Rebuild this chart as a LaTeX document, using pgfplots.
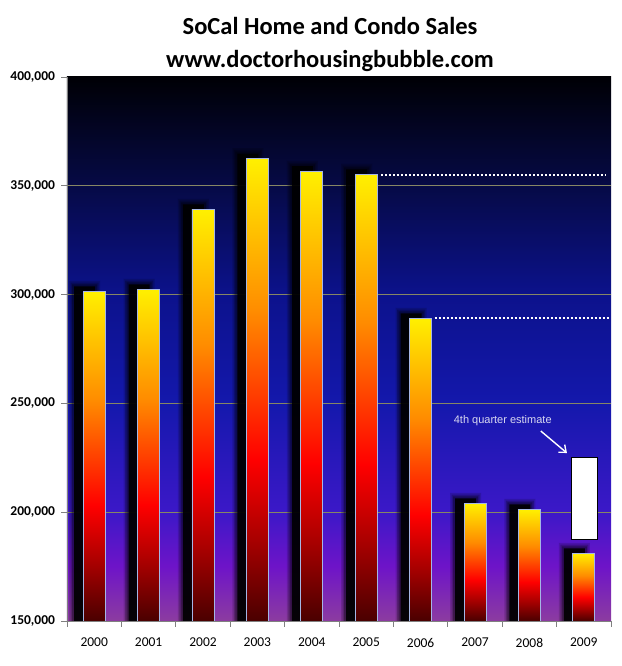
\documentclass[border=0pt]{standalone}
\usepackage{pgfplots}
\pgfplotsset{compat=1.18}
\usepackage{pgfplotstable}
\usepackage{fontspec}
\setmainfont{Carlito}
\newfontfamily\arial{Liberation Sans}
\usetikzlibrary{arrows.meta}

% bar colours, bottom to top
\definecolor{bar0}{RGB}{74,0,0}
\definecolor{bar1}{RGB}{165,0,0}
\definecolor{bar2}{RGB}{255,0,0}
\definecolor{bar3}{RGB}{255,140,0}
\definecolor{bar4}{RGB}{255,240,0}
\definecolor{barline}{RGB}{165,182,230}
% plot background, bottom to top
\definecolor{bg0}{RGB}{140,60,160}
\definecolor{bg1}{RGB}{110,20,200}
\definecolor{bg2}{RGB}{60,24,200}
\definecolor{bg3}{RGB}{20,24,172}
\definecolor{bg4}{RGB}{12,18,140}
\definecolor{bg5}{RGB}{6,10,70}
\definecolor{bg6}{RGB}{0,0,5}
\definecolor{axisgray}{RGB}{128,128,128}
\definecolor{gridcol}{RGB}{135,135,100}
\definecolor{notecol}{RGB}{215,215,240}

\pgfdeclareverticalshading{barshade}{100bp}{color(0bp)=(bar0); color(25bp)=(bar0);
  color(33.5bp)=(bar1); color(42.5bp)=(bar2); color(58.5bp)=(bar3);
  color(75bp)=(bar4); color(100bp)=(bar4)}
\pgfdeclareverticalshading{bgshade}{100bp}{color(0bp)=(bg0); color(25bp)=(bg0);
  color(30bp)=(bg1); color(35bp)=(bg2); color(45bp)=(bg3); color(55bp)=(bg4);
  color(65bp)=(bg5); color(75bp)=(bg6); color(100bp)=(bg6)}

% yearly sales
\pgfplotstableread{
i v
0 301500
1 302400
2 339200
3 362500
4 356700
5 355300
6 289100
7 204100
8 201300
9 181100
}\sales

% 4th quarter estimate range for 2009
\pgfplotstableread{
x y
8.78 187500
9.25 187500
9.25 225200
8.78 225200
8.78 187500
}\estbox

\pgfplotstableread{
x y
5.27 354800
9.40 354800
}\toplevel

\pgfplotstableread{
x y
6.26 289100
9.48 289100
}\midlevel

\begin{document}
\begin{tikzpicture}
\begin{axis}[
    scale only axis, width=544bp, height=544bp,
    xmin=-0.5, xmax=9.5, ymin=0, ymax=250000,
    axis x line*=bottom, axis y line*=left,
    axis line style={draw=axisgray, line width=0.9bp},
    axis background/.style={shading=bgshade},
    tick style={draw=axisgray, line width=0.9bp},
    tick align=outside, major tick length=5.5bp,
    xtick={-0.5,0.5,...,9.5},
    x tick label as interval,
    xticklabels={2000,2001,2002,2003,2004,2005,2006,2007,2008,2009},
    scaled y ticks=false,
    ytick={0,50000,100000,150000,200000},
    yticklabels={{150,000},{200,000},{250,000},{300,000},{350,000}},
    extra y ticks={250000},
    extra y tick labels={400{,}000},
    extra y tick style={grid=none},
    ymajorgrids,
    grid style={draw=gridcol, line width=0.9bp},
    x tick label style={font=\fontsize{13.5bp}{15bp}\selectfont, yshift=-8bp},
    y tick label style={font=\fontsize{13.5bp}{15bp}\selectfont\bfseries, xshift=-3bp},
  ]
  \coordinate (O) at (rel axis cs:0,0);
  % soft shadows, drawn as nested translucent bars
  \addplot[ybar, bar width=31bp, bar shift=-9.5bp, draw=none, fill=black, fill opacity=0.15]
    table[x=i, y expr=\thisrow{v}-150000+4800] {\sales};
  \addplot[ybar, bar width=28bp, bar shift=-9.5bp, draw=none, fill=black, fill opacity=0.22]
    table[x=i, y expr=\thisrow{v}-150000+4000] {\sales};
  \addplot[ybar, bar width=25bp, bar shift=-9.5bp, draw=none, fill=black, fill opacity=0.3]
    table[x=i, y expr=\thisrow{v}-150000+3200] {\sales};
  \addplot[ybar, bar width=21bp, bar shift=-9.5bp, draw=none, fill=black, fill opacity=0.9]
    table[x=i, y expr=\thisrow{v}-150000+2300] {\sales};
  % the bars, one plot per bar so that each gets its own gradient
  \pgfplotsinvokeforeach{0,...,9}{
    \addplot[ybar, bar width=22bp, bar shift=0pt, shading=barshade, draw=barline,
      line width=0.8bp, restrict x to domain=#1:#1]
      table[x=i, y expr=\thisrow{v}-150000] {\sales};
  }
  % dotted reference levels
  \addplot[no marks, draw=white, line width=2bp, dash pattern=on 2bp off 2bp]
    table[x=x, y expr=\thisrow{y}-150000] {\toplevel};
  \addplot[no marks, draw=white, line width=2bp, dash pattern=on 2bp off 2bp]
    table[x=x, y expr=\thisrow{y}-150000] {\midlevel};
  % estimate box
  \addplot[no marks, fill=white, draw=black, line width=0.8bp]
    table[x=x, y expr=\thisrow{y}-150000] {\estbox} -- cycle;
  \node[text=notecol, font=\arial\fontsize{11bp}{13bp}\selectfont] at (axis cs:7.51,91900) {4th quarter estimate};
  \draw[white, line width=1.4bp, -{Straight Barb[length=6bp, width=10bp]}]
    (axis cs:8.21,87300) -- (axis cs:8.69,77200);
\end{axis}
\node[anchor=base, font=\fontsize{24.5bp}{29bp}\selectfont\bfseries] at ([shift={(263bp,586bp)}]O) {SoCal Home and Condo Sales};
\node[anchor=base, font=\fontsize{24.5bp}{29bp}\selectfont\bfseries] at ([shift={(263bp,553bp)}]O) {www.doctorhousingbubble.com};
\path ([shift={(-67bp,-45bp)}]O) rectangle ([shift={(555bp,621bp)}]O);
\end{tikzpicture}
\end{document}
